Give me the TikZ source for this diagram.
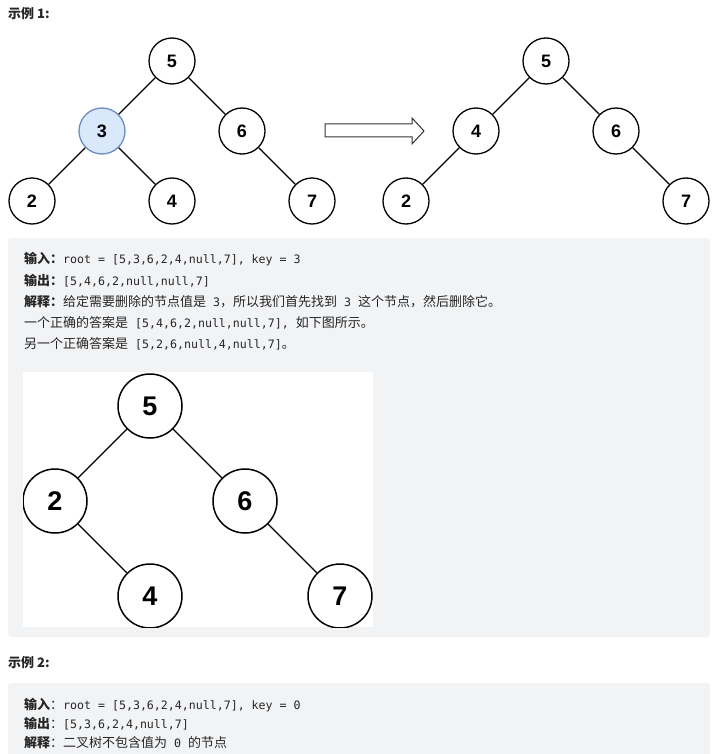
\documentclass[tikz,border=0pt]{standalone}
\usepackage{fontspec}
\setmainfont{Liberation Sans}
\newfontfamily\cjk{Noto Sans CJK SC}
\newfontfamily\mono{DejaVu Sans Mono}
\definecolor{boxbg}{RGB}{242,243,245}
\definecolor{txt}{RGB}{38,38,38}
\definecolor{hlfill}{RGB}{218,232,252}
\definecolor{hldraw}{RGB}{108,142,191}
\newcommand{\mt}[1]{{\mono\fontsize{11.6}{13}\selectfont #1}}
\newcommand{\ms}{{\mono\fontsize{11.6}{13}\selectfont\ }}
\tikzset{
  tn/.style={circle, draw, line width=1.3pt, minimum size=46pt, inner sep=0pt, fill=white,
    font=\fontsize{18}{18}\selectfont\bfseries},
  bn/.style={circle, draw, line width=1.5pt, minimum size=64pt, inner sep=0pt, fill=white,
    font=\fontsize{27}{27}\selectfont\bfseries},
  hl/.style={fill=hlfill, draw=hldraw},
  edge/.style={line width=1.2pt},
  txtline/.style={anchor=base west, inner sep=0pt, text=txt, font=\cjk\fontsize{13}{15}\selectfont},
  title/.style={anchor=base west, inner sep=0pt, text=txt, font=\cjk\bfseries\fontsize{13}{15}\selectfont},
  grey/.style={fill=boxbg, rounded corners=3pt}
}
\begin{document}
\begin{tikzpicture}[x=1pt,y=-1pt]
\useasboundingbox[fill=white] (0,0) rectangle (712,754);
% titles
\node[title] (t1) at (8,19) {示例 1:};
\node[title] (t2) at (8,667) {示例 2:};
% tree 1
\node[tn] (a5) at (172,61) {5};
\node[tn,hl] (a3) at (102,131) {3};
\node[tn] (a6) at (242,131) {6};
\node[tn] (a2) at (32,201) {2};
\node[tn] (a4) at (172,201) {4};
\node[tn] (a7) at (312,201) {7};
\draw[edge] (a5) -- (a3); \draw[edge] (a5) -- (a6);
\draw[edge] (a3) -- (a2); \draw[edge] (a3) -- (a4);
\draw[edge] (a6) -- (a7);
% block arrow
\draw[line width=1pt, fill=white, draw=black!80] (325,124) -- (412,124) -- (412,118) -- (424,131) -- (412,144) -- (412,137) -- (325,137) -- cycle;
% tree 2
\node[tn] (b5) at (546,61) {5};
\node[tn] (b4) at (476,131) {4};
\node[tn] (b6) at (616,131) {6};
\node[tn] (b2) at (406,201) {2};
\node[tn] (b7) at (686,201) {7};
\draw[edge] (b5) -- (b4); \draw[edge] (b5) -- (b6);
\draw[edge] (b4) -- (b2); \draw[edge] (b6) -- (b7);
% grey box 1
\fill[grey] (8,238) rectangle (710,637);
\node[txtline] (l1) at (24,263) {{\bfseries 输入：}\mt{root = [5,3,6,2,4,null,7], key = 3}};
\node[txtline] (l2) at (24,285) {{\bfseries 输出：}\mt{[5,4,6,2,null,null,7]}};
\node[txtline] (l3) at (24,306) {{\bfseries 解释：}给定需要删除的节点值是\ms\mt{3}，所以我们首先找到\ms\mt{3}\ms 这个节点，然后删除它。};
\node[txtline] (l4) at (24,327) {一个正确的答案是\ms\mt{[5,4,6,2,null,null,7],}\ms 如下图所示。};
\node[txtline] (l5) at (24,348) {另一个正确答案是\ms\mt{[5,2,6,null,4,null,7]}。};
% inner image
\fill[white] (23,372) rectangle (373,627);
\begin{scope}
\clip (23,372) rectangle (373,627);
\node[bn] (c5) at (150,406) {5};
\node[bn] (c2) at (55,501) {2};
\node[bn] (c6) at (245,501) {6};
\node[bn] (c4) at (150,596) {4};
\node[bn] (c7) at (340,596) {7};
\draw[edge] (c5) -- (c2); \draw[edge] (c5) -- (c6);
\draw[edge] (c2) -- (c4); \draw[edge] (c6) -- (c7);
\end{scope}
% grey box 2
\fill[grey] (8,683) rectangle (710,760);
\node[txtline] (m1) at (24,709) {{\bfseries 输入}：\mt{root = [5,3,6,2,4,null,7], key = 0}};
\node[txtline] (m2) at (24,728) {{\bfseries 输出}：\mt{[5,3,6,2,4,null,7]}};
\node[txtline] (m3) at (24,747) {{\bfseries 解释}：二叉树不包含值为\ms\mt{0}\ms 的节点};
\end{tikzpicture}
\end{document}
